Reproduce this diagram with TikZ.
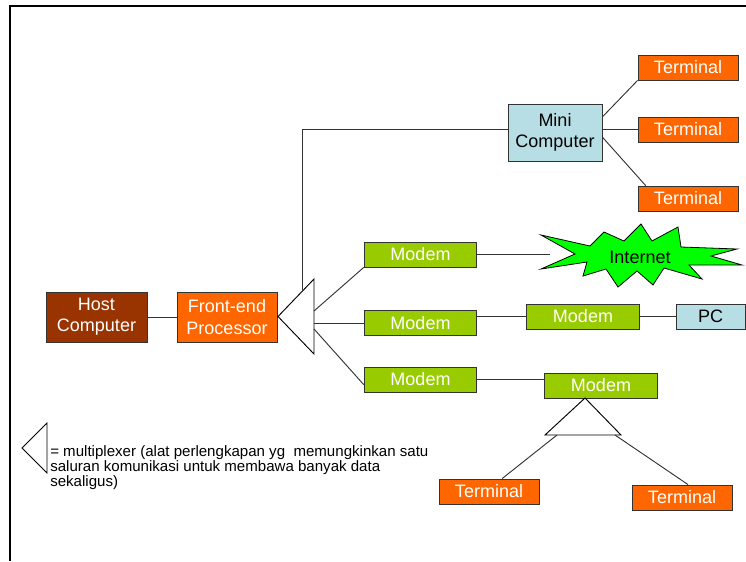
\documentclass[tikz,border=0pt]{standalone}
\usepackage{fontspec}
\setmainfont{Liberation Sans}
\usetikzlibrary{calc}
\definecolor{hostbrown}{RGB}{153,51,0}
\definecolor{termorange}{RGB}{255,102,0}
\definecolor{modemgreen}{RGB}{153,204,0}
\definecolor{minicyan}{RGB}{183,222,228}
\definecolor{netgreen}{RGB}{0,255,0}

\begin{document}
\begin{tikzpicture}[x=0.75pt,y=-0.75pt,
    unit/.style={draw=black!80,line width=0.6pt,inner sep=0pt,align=center,
      font=\fontsize{13.5}{16}\selectfont,text=white},
    hostbox/.style={unit,fill=hostbrown,minimum width=75.75pt,minimum height=37.5pt},
    fepbox/.style={unit,fill=termorange,minimum width=75pt,minimum height=37.5pt},
    termbox/.style={unit,fill=termorange,minimum width=75pt,minimum height=18.75pt},
    modembox/.style={unit,fill=modemgreen,minimum width=84.5pt,minimum height=18.75pt},
    pcbox/.style={unit,fill=minicyan,text=black},
    link/.style={draw=black!80,line width=0.7pt},
    mux/.style={draw=black,line width=0.7pt,fill=white}]
  \useasboundingbox (0,0) rectangle (746,561);
  \draw[line width=2.2pt] (10,561) -- (10,6) -- (746,6);

  % main line
  \node[hostbox] (host) at (96.5,317) {Host\\Computer};
  \node[fepbox] (fep) at (227,317) {Front-end\\Processor};
  \draw[mux] (278,316.5) -- (314,279) -- (314,354) -- cycle;
  \coordinate (muxtop) at (302,291.5);
  \draw[link] (host) -- (fep);

  % mini computer branch
  \node[pcbox,minimum width=70.5pt,minimum height=42.75pt] (mini) at (555,132.5) {Mini\\Computer};
  \node[termbox] (t1) at (688,67.5) {Terminal};
  \node[termbox] (t2) at (688,129.5) {Terminal};
  \node[termbox] (t3) at (688,198.5) {Terminal};
  \draw[link] (muxtop) -- (muxtop |- t2.west) -- (mini.west |- t2.west);
  \draw[link] ($(mini.north east)!0.23!(mini.south east)$) -- (t1.south west);
  \draw[link] (mini.east |- t2.west) -- (t2.west);
  \draw[link] ($(mini.north east)!0.58!(mini.south east)$) -- ($(t3.north west)!0.08!(t3.north east)$);

  % modems
  \node[modembox] (m1) at (420.5,254.5) {Modem};
  \node[modembox] (m2) at (420.5,323) {Modem};
  \node[modembox] (m3) at (420.5,379.5) {Modem};
  \draw[link] (314,311) -- (m1.south west);
  \draw[link] (314,323) -- (m2.west);
  \draw[link] (314,329) -- ($(m3.south west)!0.3!(m3.north west)$);

  % internet
  \draw[fill=netgreen,draw=black,line width=0.6pt] (541,235) -- (590,246) -- (604,232) -- (624,241)
    -- (641,224) -- (652,241) -- (678,227) -- (681,247) -- (737,249) -- (711,256)
    -- (742,265) -- (689,265) -- (702,279) -- (664,268) -- (653,285) -- (637,271)
    -- (618,287) -- (606,269) -- (583,276) -- (587,262) -- (541,269) -- (575,254) -- cycle;
  \node[font=\fontsize{13.5}{16}\selectfont] (inet) at (640,257) {Internet};
  \coordinate (inetw) at (550,254.5);
  \draw[link] (m1.east) -- (inetw);

  % modem to pc
  \node[modembox] (mm) at (583,316.5) {Modem};
  \node[pcbox,minimum width=51.75pt,minimum height=18.75pt] (pc) at (710.5,316.5) {PC};
  \draw[link] (mm.west -| m2.east) -- (mm.west);
  \draw[link] (mm) -- (pc);

  % modem to terminals
  \node[modembox] (m4) at (601,385.5) {Modem};
  \draw[link] (m3.east) -- (m3.east -| m4.west);
  \draw[mux] (585,398) -- (545,435) -- (621,435) -- cycle;
  \node[termbox] (t4) at (489,491.5) {Terminal};
  \node[termbox] (t5) at (682,497.5) {Terminal};
  \draw[link] (557,435) -- ($(t4.north west)!0.63!(t4.north east)$);
  \draw[link] (615,435) -- ($(t5.north west)!0.56!(t5.north east)$);

  % legend
  \draw[mux] (22,448) -- (47,423) -- (47,473) -- cycle;
  \node[anchor=north west,align=left,inner sep=0pt,font=\fontsize{11.3}{11.4}\selectfont] (legend) at (50,445)
    {= multiplexer (alat perlengkapan yg\ \ memungkinkan satu\\saluran komunikasi untuk membawa banyak data\\sekaligus)};
\end{tikzpicture}
\end{document}
